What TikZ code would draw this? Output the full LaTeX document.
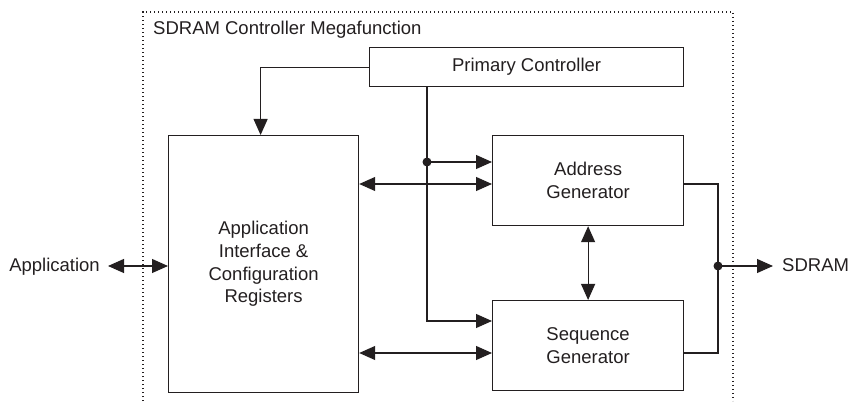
\documentclass[tikz,border=0pt]{standalone}
\usepackage{fontspec}
\setmainfont{Liberation Sans}
\usetikzlibrary{arrows.meta,calc}
\definecolor{ink}{HTML}{231F20}
\begin{document}
\begin{tikzpicture}[x=1pt,y=-1pt, color=ink,
  box/.style={draw, line width=1.2pt, inner sep=0pt, anchor=north west, align=center, font=\fontsize{18.5}{22.6}\selectfont},
  conn/.style={line width=1.1pt},
  arr/.style={conn, -{Triangle[length=16pt,width=14pt]}},
  darr/.style={conn, {Triangle[length=16pt,width=14pt]}-{Triangle[length=16pt,width=14pt]}},
  lbl/.style={font=\fontsize{18.5}{22.6}\selectfont, inner sep=0pt},
  dotb/.style={line width=1.3pt, dash pattern=on 1.4pt off 2.6pt}
]
\useasboundingbox (0,0) rectangle (849,403);
% frame
\draw[dotb] (143,401) -- (143,12) -- (733,12) -- (733,401);
\node[lbl, anchor=base west] (title) at (153,35) {SDRAM Controller Megafunction};
% boxes
\node[box, minimum width=314pt, minimum height=39pt] (pc) at (369,47) {Primary Controller};
\node[box, minimum width=190pt, minimum height=257pt] (app) at (168,135) {Application\\Interface \&\\Configuration\\Registers};
\node[box, minimum width=191pt, minimum height=90pt] (addr) at (492,135) {Address\\Generator};
\node[box, minimum width=191pt, minimum height=90pt] (seq) at (492,300) {Sequence\\Generator};
% outside labels
\node[lbl, anchor=base east] (appl) at (100,272) {Application};
\node[lbl, anchor=base west] (sd) at (782,272) {SDRAM};
% junctions
\coordinate (j1) at (427,162);
\coordinate (j2) at (718,266);
% connectors
\draw[arr] (pc.west) -| ([xshift=-3pt]app.north);
\draw[arr] (pc.south -| j1) |- (seq.west |- 0,321);
\draw[arr] (j1) -- (addr.west |- j1);
\fill (j1) circle (4.5pt);
\draw[darr] (app.east |- 0,184) -- (addr.west |- 0,184);
\draw[darr] (app.east |- 0,353) -- (seq.west |- 0,353);
\draw[darr] (addr.south) -- (seq.north);
\draw[conn] (addr.east |- 0,184) -| (j2);
\draw[conn] (seq.east |- 0,353) -| (j2);
\fill (j2) circle (4.5pt);
\draw[arr] (j2) -- ([xshift=-9pt]sd.west |- j2);
\draw[darr] ([xshift=8pt]appl.east |- 0,266) -- (app.west |- 0,266);
\end{tikzpicture}
\end{document}
